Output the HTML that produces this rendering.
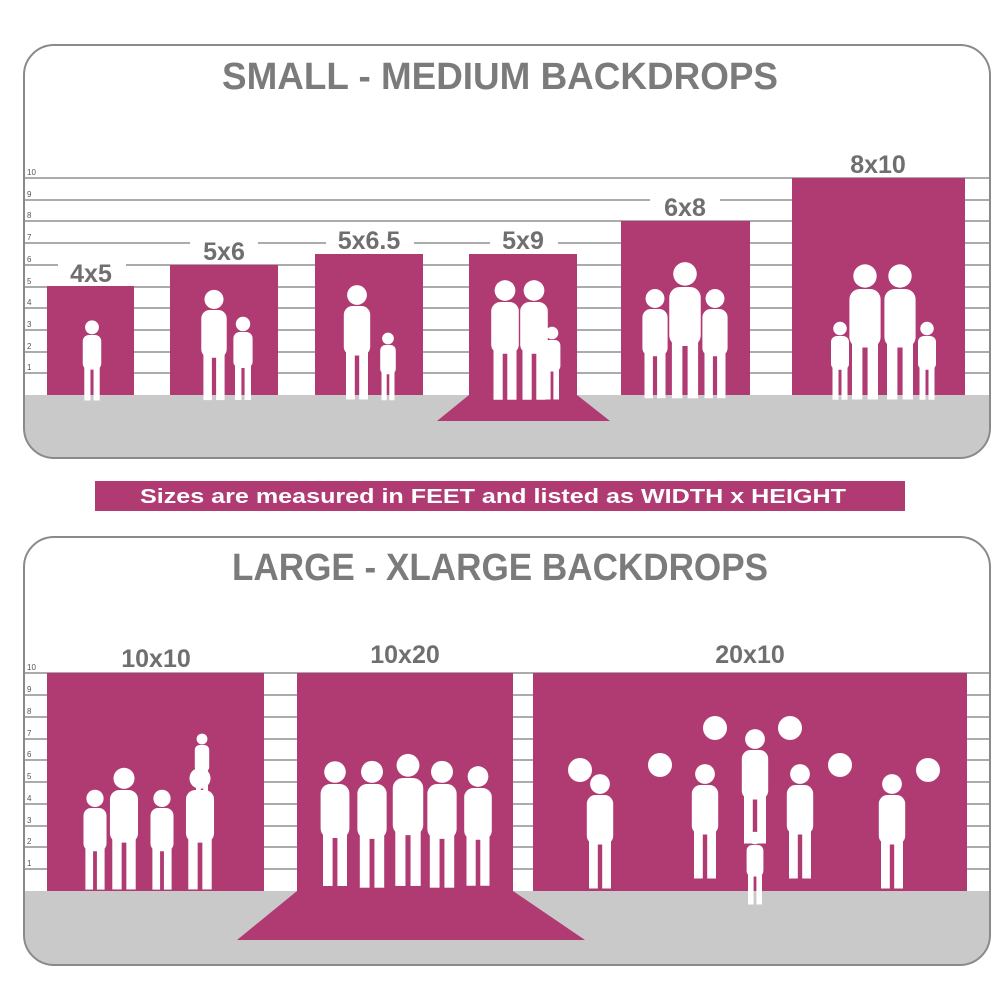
<!DOCTYPE html>
<html><head><style>html,body{margin:0;padding:0;background:#fff}svg{display:block}</style></head><body>
<svg width="1000" height="1000" viewBox="0 0 1000 1000" xmlns="http://www.w3.org/2000/svg" font-family="Liberation Sans, sans-serif">
<defs>
<g id="p"><circle cx="0" cy="-10" r="9"/><rect x="-12" y="0" width="24" height="45" rx="8"/><rect x="-10" y="40" width="8" height="45"/><rect x="2" y="40" width="8" height="45"/></g>
<clipPath id="c1"><rect x="24" y="45" width="966" height="413" rx="30"/></clipPath>
<clipPath id="c2"><rect x="24" y="537" width="966" height="428" rx="30"/></clipPath>
</defs>
<rect width="1000" height="1000" fill="#fff"/>
<!-- top panel -->
<rect x="24" y="395" width="966" height="62" fill="#c9c9ca" clip-path="url(#c1)"/>
<g stroke="#8f8f8f" stroke-width="1.5">
<line x1="24" x2="990" y1="178" y2="178"/><line x1="24" x2="990" y1="200" y2="200"/><line x1="24" x2="990" y1="221" y2="221"/><line x1="24" x2="990" y1="243" y2="243"/><line x1="24" x2="990" y1="265" y2="265"/><line x1="24" x2="990" y1="287" y2="287"/><line x1="24" x2="990" y1="308" y2="308"/><line x1="24" x2="990" y1="330" y2="330"/><line x1="24" x2="990" y1="352" y2="352"/><line x1="24" x2="990" y1="373" y2="373"/>
</g>
<g font-size="8" fill="#555"><text x="27" y="175">10</text><text x="27" y="197">9</text><text x="27" y="218">8</text><text x="27" y="240">7</text><text x="27" y="262">6</text><text x="27" y="284">5</text><text x="27" y="305">4</text><text x="27" y="327">3</text><text x="27" y="349">2</text><text x="27" y="370">1</text></g>
<g fill="#b03b73">
<rect x="47" y="286" width="87" height="109"/><rect x="170" y="265" width="108" height="130"/><rect x="315" y="254" width="108" height="141"/><rect x="469" y="254" width="108" height="141"/><polygon points="469,395 577,395 610,421 437,421"/><rect x="621" y="221" width="129" height="174"/><rect x="792" y="178" width="173" height="217"/>
</g>
<g font-size="25" font-weight="bold" fill="#6f6f6f" text-anchor="middle">
<rect x="58" y="258" width="68" height="26" fill="#fff"/><text x="91" y="282">4x5</text>
<rect x="190" y="236" width="68" height="26" fill="#fff"/><text x="224" y="260">5x6</text>
<rect x="326" y="226" width="88" height="26" fill="#fff"/><text x="369" y="249">5x6.5</text>
<rect x="490" y="226" width="68" height="26" fill="#fff"/><text x="523" y="249">5x9</text>
<rect x="650" y="193" width="70" height="26" fill="#fff"/><text x="685" y="216">6x8</text>
<rect x="838" y="150" width="80" height="26" fill="#fff"/><text x="878" y="173">8x10</text>
</g>
<g fill="#fff">
<use href="#p" transform="translate(92,335) scale(0.77)"/>
<use href="#p" transform="translate(214,310) scale(1.06)"/><use href="#p" transform="translate(243,332) scale(0.8)"/>
<use href="#p" transform="translate(357,306) scale(1.1)"/><use href="#p" transform="translate(388,345) scale(0.65)"/>
<use href="#p" transform="translate(505,302) scale(1.15)"/><use href="#p" transform="translate(534,302) scale(1.15)"/><use href="#p" transform="translate(552,340) scale(0.7)"/>
<use href="#p" transform="translate(655,309) scale(1.05)"/><use href="#p" transform="translate(685,287) scale(1.31)"/><use href="#p" transform="translate(715,309) scale(1.05)"/>
<use href="#p" transform="translate(840,336) scale(0.75)"/><use href="#p" transform="translate(865,289) scale(1.3)"/><use href="#p" transform="translate(900,289) scale(1.3)"/><use href="#p" transform="translate(927,336) scale(0.75)"/>
</g>
<rect x="24" y="45" width="966" height="413" rx="30" fill="none" stroke="#8a8a8a" stroke-width="2"/>
<text x="500" y="89" font-size="38" font-weight="bold" fill="#7b7b7b" text-anchor="middle" textLength="556" lengthAdjust="spacingAndGlyphs">SMALL - MEDIUM BACKDROPS</text>
<!-- banner -->
<rect x="95" y="481" width="810" height="30" fill="#b03b73"/>
<text x="493" y="503" font-size="20" font-weight="bold" fill="#fff" text-anchor="middle" textLength="706" lengthAdjust="spacingAndGlyphs">Sizes are measured in FEET and listed as WIDTH x HEIGHT</text>
<!-- bottom panel -->
<rect x="24" y="891" width="966" height="74" fill="#c9c9ca" clip-path="url(#c2)"/>
<g stroke="#8f8f8f" stroke-width="1.5">
<line x1="24" x2="990" y1="673" y2="673"/><line x1="24" x2="990" y1="695" y2="695"/><line x1="24" x2="990" y1="717" y2="717"/><line x1="24" x2="990" y1="739" y2="739"/><line x1="24" x2="990" y1="760" y2="760"/><line x1="24" x2="990" y1="782" y2="782"/><line x1="24" x2="990" y1="804" y2="804"/><line x1="24" x2="990" y1="826" y2="826"/><line x1="24" x2="990" y1="847" y2="847"/><line x1="24" x2="990" y1="869" y2="869"/>
</g>
<g font-size="8" fill="#555"><text x="27" y="670">10</text><text x="27" y="692">9</text><text x="27" y="714">8</text><text x="27" y="736">7</text><text x="27" y="757">6</text><text x="27" y="779">5</text><text x="27" y="801">4</text><text x="27" y="823">3</text><text x="27" y="844">2</text><text x="27" y="866">1</text></g>
<g fill="#b03b73">
<rect x="47" y="673" width="217" height="218"/><rect x="297" y="673" width="216" height="218"/><polygon points="297,891 513,891 585,940 237,940"/><rect x="533" y="673" width="434" height="218"/>
</g>
<g font-size="25" font-weight="bold" fill="#6f6f6f" text-anchor="middle">
<text x="156" y="667">10x10</text><text x="405" y="663">10x20</text><text x="750" y="663">20x10</text>
</g>
<g fill="#fff">
<use href="#p" transform="translate(95,808) scale(0.96)"/><use href="#p" transform="translate(124,790) scale(1.17)"/><use href="#p" transform="translate(162,808) scale(0.96)"/><use href="#p" transform="translate(200,790) scale(1.17)"/><use href="#p" transform="translate(202,745) scale(0.6)"/>
<use href="#p" transform="translate(335,784) scale(1.2)"/><use href="#p" transform="translate(372,784) scale(1.22)"/><use href="#p" transform="translate(408,778) scale(1.27)"/><use href="#p" transform="translate(442,784) scale(1.22)"/><use href="#p" transform="translate(478,788) scale(1.15)"/>
<use href="#p" transform="translate(600,795) scale(1.1)"/><use href="#p" transform="translate(705,785) scale(1.1)"/><use href="#p" transform="translate(755,750) scale(1.1)"/><use href="#p" transform="translate(800,785) scale(1.1)"/><use href="#p" transform="translate(892,795) scale(1.1)"/><use href="#p" transform="translate(755,845) scale(0.7)"/>
<circle cx="580" cy="770" r="12"/><circle cx="660" cy="765" r="12"/><circle cx="715" cy="728" r="12"/><circle cx="790" cy="728" r="12"/><circle cx="840" cy="765" r="12"/><circle cx="928" cy="770" r="12"/>
</g>
<rect x="24" y="537" width="966" height="428" rx="30" fill="none" stroke="#8a8a8a" stroke-width="2"/>
<text x="500" y="580" font-size="38" font-weight="bold" fill="#7b7b7b" text-anchor="middle" textLength="536" lengthAdjust="spacingAndGlyphs">LARGE - XLARGE BACKDROPS</text>
</svg>
</body></html>
